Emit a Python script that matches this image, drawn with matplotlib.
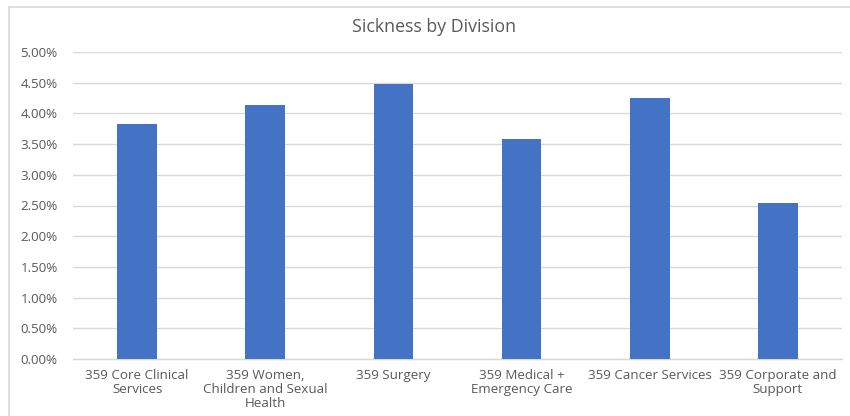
import matplotlib
matplotlib.use('Agg')
import matplotlib.pyplot as plt
from matplotlib.lines import Line2D
from matplotlib.ticker import FuncFormatter, MultipleLocator

#%% Data
divisions = ['359 Core Clinical\nServices',
             '359 Women,\nChildren and Sexual\nHealth',
             '359 Surgery',
             '359 Medical +\nEmergency Care',
             '359 Cancer Services',
             '359 Corporate and\nSupport']
sickness = [0.0383, 0.0413, 0.0448, 0.0359, 0.0425, 0.0254]

#%% Styling
plt.rcParams['font.family'] = ['Open Sans', 'DejaVu Sans']
txtColor = '#595959'
gridColor = '#D9D9D9'
barColor = '#4472C4'

W, H = 850, 416
fig = plt.figure(figsize=(W/100, H/100), dpi=100)
ax = fig.add_axes([73/W, 1 - 359/H, (842-73)/W, (359-52)/H])

x = range(len(divisions))
ax.bar(x, sickness, width=0.31, color=barColor, zorder=3)

ax.set_xlim(-0.5, len(divisions) - 0.5)
ax.set_ylim(0, 0.05)
ax.yaxis.set_major_locator(MultipleLocator(0.005))
ax.yaxis.set_major_formatter(FuncFormatter(lambda v, p: '%.2f%%' % (v*100)))
ax.grid(axis='y', color=gridColor, linewidth=1.0, zorder=0)
ax.set_xticks(list(x))
ax.set_xticklabels(divisions, fontsize=9.6, color=txtColor, linespacing=1.13)
ax.tick_params(axis='y', labelsize=9.6, labelcolor=txtColor, length=0, pad=11)
ax.tick_params(axis='x', length=0, pad=7)
for s in ['top', 'right', 'left']:
    ax.spines[s].set_visible(False)
ax.spines['bottom'].set_color(gridColor)
ax.spines['bottom'].set_linewidth(1.0)

fig.text(434/W, 1 - 27/H, 'Sickness by Division', ha='center', va='center',
         fontsize=12.8, color=txtColor)

# chart-area border (only left and top edges are visible in the crop)
fig.add_artist(Line2D([8.5/W, 8.5/W], [0, 1 - 6.5/H], color='#D9D9D9', lw=1.2))
fig.add_artist(Line2D([8.5/W, 1], [1 - 6.5/H, 1 - 6.5/H], color='#D9D9D9', lw=1.2))

fig.savefig('out.png', dpi=100, facecolor='white')
